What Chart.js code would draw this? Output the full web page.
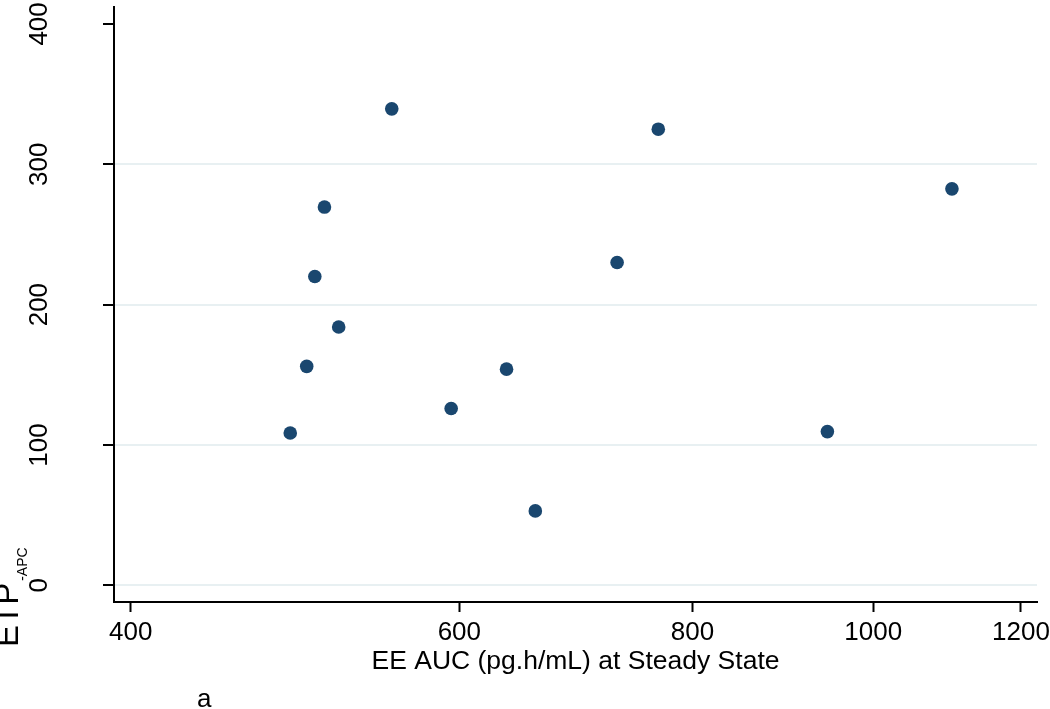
<!DOCTYPE html>
<html lang="en">
<head>
<meta charset="UTF-8" />
<title>ETP-APC vs EE AUC</title>
<script src="https://cdn.jsdelivr.net/npm/chart.js"></script>
<style>
    body { margin: 0; background: #fff; }
    #wrap { width: 1050px; height: 709px; }
</style>
</head>
<body>
<div id="wrap"><canvas id="chart" width="1050" height="709"></canvas></div>
<script>
// EE AUC (pg.h/mL) at steady state, one per subject
const eeAuc = [487, 497, 502, 508, 517, 552, 594, 636, 659, 729, 767, 945, 1102];
// ETP-APC for the same subjects
const etpApc = [108.5, 156, 220, 269.5, 184, 339.5, 126, 154, 53, 230, 325, 109.5, 282.5];

const xTicks = [400, 600, 800, 1000, 1200];
const yTicks = [0, 100, 200, 300, 400];
const xRange = [391.8, 1224];
const yRange = [-11.9, 412.2];

const xTitle = 'EE AUC (pg.h/mL) at Steady State';
const yTitle = 'ETP';
const ySub = '-APC';
const panelLabel = 'a';

const FONT = '"Liberation Sans", Arial, sans-serif';
const DOT = '#1a476f';
const GRID = '#e8f0f2';

// texte dessiné à la main: étiquettes y tournées, titres, indice
const textPlugin = {
    id: 'stataText',
    afterDraw(chart) {
        const ctx = chart.ctx;
        const ys = chart.scales.y;
        const area = chart.chartArea;
        ctx.save();
        ctx.fillStyle = '#000';

        ctx.font = '26px ' + FONT;
        ctx.textAlign = 'center';
        ctx.textBaseline = 'alphabetic';
        yTicks.forEach(v => {
            ctx.save();
            ctx.translate(47, ys.getPixelForValue(v));
            ctx.rotate(-Math.PI / 2);
            ctx.fillText(String(v), 0, 0);
            ctx.restore();
        });

        ctx.save();
        ctx.translate(17.5, 647);
        ctx.rotate(-Math.PI / 2);
        ctx.textAlign = 'left';
        ctx.font = '33px ' + FONT;
        ctx.fillText(yTitle, 0, 0);
        const w = ctx.measureText(yTitle).width;
        ctx.font = '14px ' + FONT;
        ctx.fillText(ySub, w + 2, 9.5);
        ctx.restore();

        ctx.font = '26.5px ' + FONT;
        ctx.textAlign = 'center';
        ctx.fillText(xTitle, (area.left + area.right) / 2, 669);

        ctx.font = '26px ' + FONT;
        ctx.textAlign = 'left';
        ctx.fillText(panelLabel, 197, 707);
        ctx.restore();
    }
};

const points = eeAuc.map((x, i) => ({ x: x, y: etpApc[i] }));

new Chart(document.getElementById('chart'), {
    type: 'scatter',
    data: {
        datasets: [{
            data: points,
            pointRadius: 6.8,
            pointBackgroundColor: DOT,
            pointBorderWidth: 0,
            pointHoverRadius: 6.8
        }]
    },
    options: {
        responsive: false,
        animation: false,
        devicePixelRatio: 1,
        layout: { padding: { top: 5, right: 13, left: 0, bottom: 0 } },
        plugins: {
            legend: { display: false },
            tooltip: { enabled: false }
        },
        scales: {
            x: {
                type: 'logarithmic',
                min: xRange[0],
                max: xRange[1],
                afterBuildTicks: axis => { axis.ticks = xTicks.map(v => ({ value: v })); },
                afterFit: axis => {
                    axis.height = 107;
                    axis.paddingLeft = 0;
                    axis.paddingRight = 0;
                },
                border: { display: true, color: '#000', width: 2 },
                grid: {
                    drawOnChartArea: false,
                    drawTicks: true,
                    tickLength: 10,
                    tickColor: '#000',
                    tickWidth: 2
                },
                ticks: {
                    autoSkip: false,
                    maxRotation: 0,
                    padding: 5,
                    color: '#000',
                    font: { family: FONT, size: 26 },
                    callback: v => String(v)
                },
                title: { display: false }
            },
            y: {
                type: 'linear',
                min: yRange[0],
                max: yRange[1],
                afterBuildTicks: axis => { axis.ticks = yTicks.map(v => ({ value: v })); },
                afterFit: axis => {
                    axis.width = 114;
                    axis.paddingTop = 0;
                    axis.paddingBottom = 0;
                },
                border: { display: true, color: '#000', width: 2 },
                grid: {
                    color: c => (c.tick && c.tick.value === 400) ? 'rgba(0,0,0,0)' : GRID,
                    lineWidth: 2,
                    drawTicks: true,
                    tickLength: 11,
                    tickColor: '#000',
                    tickWidth: 2
                },
                ticks: { display: false },
                title: { display: false }
            }
        }
    },
    plugins: [textPlugin]
});
</script>
</body>
</html>
